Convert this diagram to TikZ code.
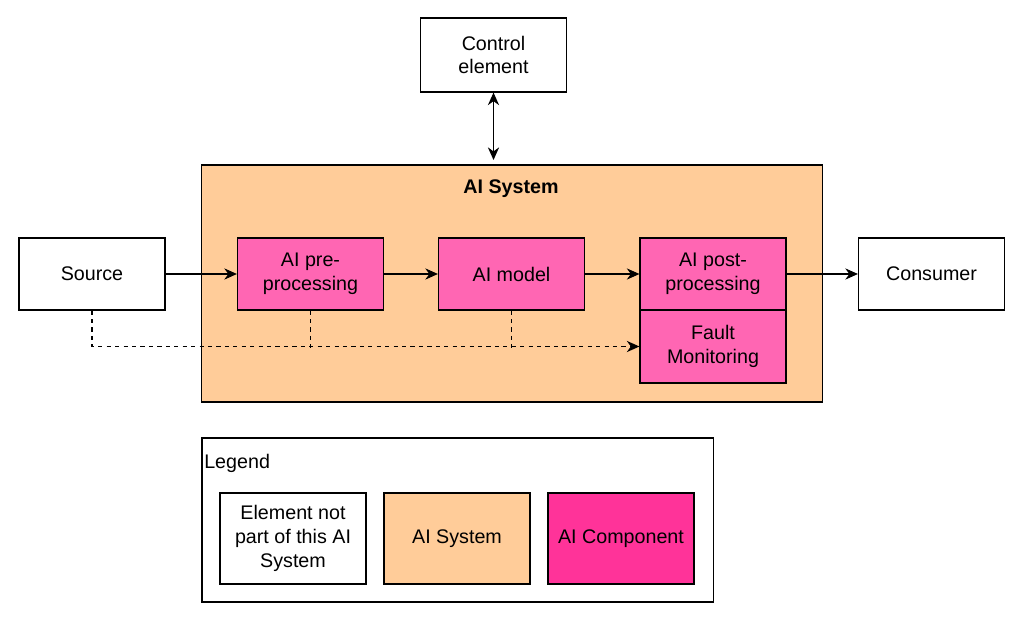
\documentclass[tikz,border=0pt]{standalone}
\usepackage{fontspec}
\setmainfont{Liberation Sans}
\usetikzlibrary{arrows.meta}
\definecolor{sysorange}{HTML}{FFCC99}
\definecolor{comppink}{HTML}{FF66B3}
\definecolor{legpink}{HTML}{FF3399}
\begin{document}
\begin{tikzpicture}[
    x=0.025cm, y=-0.025cm,
    font=\fontsize{14}{17}\selectfont,
    block/.style={draw, thick, align=center, minimum width=3.65cm, minimum height=1.8cm, inner sep=2pt},
    ext block/.style={block, fill=white},
    comp block/.style={block, fill=comppink},
    flow/.style={thick, -{Stealth[length=9pt,width=8pt]}},
    monitor/.style={thick, dashed, -{Stealth[length=9pt,width=8pt]}},
    ]
    \useasboundingbox (0,0) rectangle (1024,622);

    % system frame
    \node[draw, thick, fill=sysorange, minimum width=15.5cm, minimum height=5.925cm] (sys) at (512,283.5) {};
    \node[font=\fontsize{14}{17}\selectfont\bfseries] (systitle) at (511,189) {AI System};

    \node[ext block, minimum height=1.85cm] (ctrl) at (493.5,55) {Control\\element};
    \node[ext block] (src) at (92,274) {Source};
    \node[comp block] (pre) at (310.5,274) {AI pre-\\processing};
    \node[comp block] (model) at (511.5,274) {AI model};
    \node[comp block] (post) at (713,274) {AI post-\\processing};
    \node[comp block, minimum height=1.825cm] (fault) at (713,346.5) {Fault\\Monitoring};
    \node[ext block] (cons) at (931.5,274) {Consumer};

    \coordinate (ctrlend) at (493.5,160);
    \draw[thick, {Stealth[length=9pt,width=8pt]}-{Stealth[length=9pt,width=8pt]}] (ctrl.south) -- (ctrlend);
    \draw[flow] (src) -- (pre);
    \draw[flow] (pre) -- (model);
    \draw[flow] (model) -- (post);
    \draw[flow] (post) -- (cons);

    \draw[monitor] (src.south) |- (fault.west);
    \draw[thick, dashed] (pre.south) -- ++(0,37);
    \draw[thick, dashed] (model.south) -- ++(0,37);

    % legend
    \node[draw, thick, minimum width=12.775cm, minimum height=4.1cm] (legend) at (457.5,520) {};
    \node[anchor=west, inner sep=0pt] (legtitle) at (204,463) {Legend};
    \node[ext block, minimum height=2.275cm] (legext) at (293,538.5) {Element not\\part of this AI\\System};
    \node[block, fill=sysorange, minimum height=2.275cm] (legsys) at (457,538.5) {AI System};
    \node[block, fill=legpink, minimum height=2.275cm] (legcomp) at (621,538.5) {AI Component};
\end{tikzpicture}
\end{document}
